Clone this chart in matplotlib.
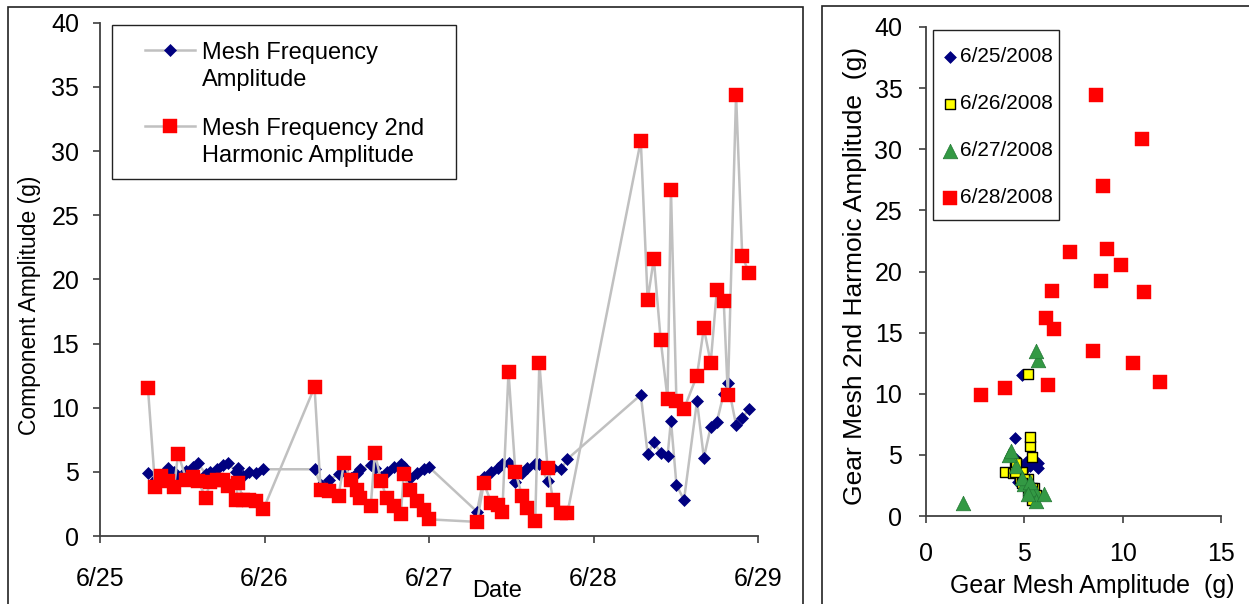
import numpy as np
import pandas as pd
import matplotlib
matplotlib.use("Agg")
import matplotlib.pyplot as plt
import matplotlib.dates as mdates
from matplotlib.ticker import FuncFormatter
from matplotlib.patches import Rectangle
from matplotlib.legend_handler import HandlerLine2D

# ── Data (hours after midnight of each day, mesh amp, 2nd harmonic amp) ──────
DAYS = ["2008-06-25", "2008-06-26", "2008-06-27", "2008-06-28"]
DAY_LABELS = ["6/25/2008", "6/26/2008", "6/27/2008", "6/28/2008"]

hours_0625 = [7.0, 8.05, 8.9, 9.95, 10.8, 11.4, 12.6, 13.6, 14.3, 15.4,
              16.1, 17.1, 18.0, 18.7, 19.8, 20.2, 20.9, 21.7, 22.8, 23.85]
mesh_0625 = [4.9, 4.4, 4.6, 5.3, 5.0, 4.5, 5.1, 5.4, 5.7, 4.8,
             5.0, 5.2, 5.5, 5.7, 5.0, 5.3, 4.7, 5.0, 4.9, 5.2]
harm_0625 = [11.5, 3.8, 4.7, 4.3, 3.8, 6.4, 4.4, 4.6, 4.3, 3.0,
             4.2, 4.4, 4.4, 3.9, 2.8, 4.1, 2.8, 2.8, 2.7, 2.1]

hours_0626 = [7.3, 8.2, 9.4, 10.8, 11.6, 12.6, 13.5, 14.0, 15.5, 16.1,
              17.0, 17.8, 18.9, 19.9, 20.3, 21.2, 22.2, 23.3, 23.95]
mesh_0626 = [5.2, 4.0, 4.4, 4.8, 5.3, 4.5, 4.9, 5.2, 5.5, 5.3,
             4.6, 5.0, 5.4, 5.6, 5.4, 4.5, 4.9, 5.2, 5.4]
harm_0626 = [11.6, 3.6, 3.5, 3.1, 5.7, 4.4, 3.6, 3.0, 2.3, 6.5,
             4.3, 3.0, 2.3, 1.7, 4.8, 3.6, 2.7, 2.0, 1.3]

hours_0627 = [7.0, 8.0, 9.1, 10.0, 10.7, 11.6, 12.6, 13.6, 14.3, 15.5,
              16.1, 17.3, 18.1, 19.3, 20.2]
mesh_0627 = [1.9, 4.6, 5.0, 5.3, 5.6, 5.7, 4.2, 4.9, 5.3, 5.6,
             5.6, 4.3, 5.3, 5.2, 6.0]
harm_0627 = [1.1, 4.1, 2.6, 2.4, 1.9, 12.8, 5.0, 3.1, 2.2, 1.2,
             13.5, 5.3, 2.8, 1.8, 1.8]

hours_0628 = [6.9, 7.9, 8.8, 9.8, 10.8, 11.3, 12.1, 13.2, 15.1, 16.1,
              17.1, 18.0, 19.0, 19.6, 20.8, 21.7, 22.7]
mesh_0628 = [11.0, 6.4, 7.3, 6.5, 6.2, 9.0, 4.0, 2.8, 10.5, 6.1,
             8.5, 8.9, 11.1, 11.9, 8.65, 9.2, 9.9]
harm_0628 = [30.8, 18.4, 21.6, 15.3, 10.7, 27.0, 10.5, 9.9, 12.5, 16.2,
             13.5, 19.2, 18.3, 11.0, 34.4, 21.8, 20.5]

hours = [hours_0625, hours_0626, hours_0627, hours_0628]
mesh = [mesh_0625, mesh_0626, mesh_0627, mesh_0628]
harm = [harm_0625, harm_0626, harm_0627, harm_0628]

# ── Style ────────────────────────────────────────────────────────────────────
plt.rcParams["font.family"] = ["Liberation Sans", "DejaVu Sans"]
NAVY = "#000080"
RED = "#ff0000"
GRAY = "#c0c0c0"
AXC = "#404040"
FRAME = "#222222"

W, H = 1249, 604
def box(l, t, r, b):
    return [l / W, 1 - b / H, (r - l) / W, (b - t) / H]

def frame(l, t, r, b, lw=1.2):
    fig.add_artist(Rectangle((l / W, 1 - b / H), (r - l) / W, (b - t) / H,
                             transform=fig.transFigure, fill=False, lw=lw, ec=FRAME))

class FirstLineHandler(HandlerLine2D):
    """put the legend marker next to the first line of a two-line label"""
    def create_artists(self, legend, orig_handle, xdescent, ydescent,
                       width, height, fontsize, trans):
        return super().create_artists(legend, orig_handle, xdescent,
                                      ydescent - 1.45 * fontsize, width, height,
                                      fontsize, trans)

fig = plt.figure(figsize=(W / 100, H / 100), dpi=100)

# chart-area frames (bottom and right run off the picture)
frame(8, 7, 803, 700)
frame(822, 6, 1400, 700)

# ── Left: time series ────────────────────────────────────────────────────────
ax1 = fig.add_axes(box(100, 22.7, 758, 536))
times = pd.concat([pd.Series(pd.Timestamp(d) + pd.to_timedelta(h, unit="h"))
                   for d, h in zip(DAYS, hours)], ignore_index=True)
mesh_all = np.concatenate(mesh)
harm_all = np.concatenate(harm)

l1, = ax1.plot(times, mesh_all, color=GRAY, lw=1.8, marker="D", ms=6.3,
               mfc=NAVY, mec=NAVY, mew=0.5, label="Mesh Frequency\nAmplitude", zorder=3)
l2, = ax1.plot(times, harm_all, color=GRAY, lw=1.8, marker="s", ms=9.5,
               mfc=RED, mec=RED, mew=0.3, label="Mesh Frequency 2nd\nHarmonic Amplitude",
               zorder=4)

ax1.set_xlim(pd.Timestamp("2008-06-25"), pd.Timestamp("2008-06-29"))
ax1.xaxis.set_major_locator(mdates.DayLocator())
ax1.xaxis.set_major_formatter(FuncFormatter(
    lambda v, p: f"{mdates.num2date(v).month}/{mdates.num2date(v).day}"))
ax1.set_ylim(0, 40)
ax1.set_yticks(range(0, 41, 5))
for s in ["top", "right"]:
    ax1.spines[s].set_visible(False)
for s in ["left", "bottom"]:
    ax1.spines[s].set_color(AXC)
    ax1.spines[s].set_linewidth(1.3)
ax1.tick_params(direction="out", length=5, width=1.2, color=AXC, labelsize=18)
ax1.tick_params(axis="x", pad=17)
ax1.tick_params(axis="y", pad=10)
ax1.set_xlabel("Date", fontsize=17)
ax1.xaxis.set_label_coords(0.603, -0.085)
ax1.set_ylabel("Component Amplitude (g)", fontsize=16.5)
ax1.yaxis.set_label_coords(-0.09, 0.45)

frame(112, 25, 456, 179, lw=1.0)
leg1 = ax1.legend(handles=[l1, l2], loc="upper left",
                  bbox_to_anchor=(145 / W, 1 - 42 / H),
                  bbox_transform=fig.transFigure, borderaxespad=0, borderpad=0,
                  fontsize=17, handlelength=2.1, handletextpad=0.3,
                  labelspacing=1.15, frameon=False,
                  handler_map={l1: FirstLineHandler(), l2: FirstLineHandler()})
for t in leg1.get_texts():
    t.set_linespacing(1.3)

# ── Right: scatter ───────────────────────────────────────────────────────────
ax2 = fig.add_axes(box(926, 27, 1221, 516))
STYLES = [
    dict(marker="D", s=36, c=NAVY, edgecolors=NAVY, linewidths=0.5),
    dict(marker="s", s=56, c="#ffff00", edgecolors="black", linewidths=1.0),
    dict(marker="^", s=110, c="#339944", edgecolors="#227733", linewidths=0.5),
    dict(marker="s", s=92, c=RED, edgecolors=RED, linewidths=0.3),
]
for x, y, lab, st in zip(mesh, harm, DAY_LABELS, STYLES):
    ax2.scatter(x, y, label=lab, zorder=3, **st)

ax2.set_xlim(0, 15)
ax2.set_ylim(0, 40)
ax2.set_xticks([0, 5, 10, 15])
ax2.set_yticks(range(0, 41, 5))
for s in ["top", "right"]:
    ax2.spines[s].set_visible(False)
for s in ["left", "bottom"]:
    ax2.spines[s].set_color(AXC)
    ax2.spines[s].set_linewidth(1.3)
ax2.tick_params(direction="out", length=5, width=1.2, color=AXC, labelsize=18)
ax2.tick_params(axis="x", pad=14)
ax2.tick_params(axis="y", pad=12)
ax2.set_xlabel("Gear Mesh Amplitude  (g)", fontsize=18)
ax2.xaxis.set_label_coords(0.565, -0.118)
ax2.set_ylabel("Gear Mesh 2nd Harmoic Amplitude  (g)", fontsize=19)
ax2.yaxis.set_label_coords(-0.2, 0.49)

frame(933, 30, 1059, 220, lw=1.0)
leg2 = ax2.legend(loc="upper left", bbox_to_anchor=(942 / W, 1 - 47 / H),
                  bbox_transform=fig.transFigure, borderaxespad=0, borderpad=0,
                  fontsize=15, handlelength=0.75, handletextpad=0.1,
                  labelspacing=1.35, frameon=False, scatterpoints=1)

fig.savefig("out.png", dpi=100)
